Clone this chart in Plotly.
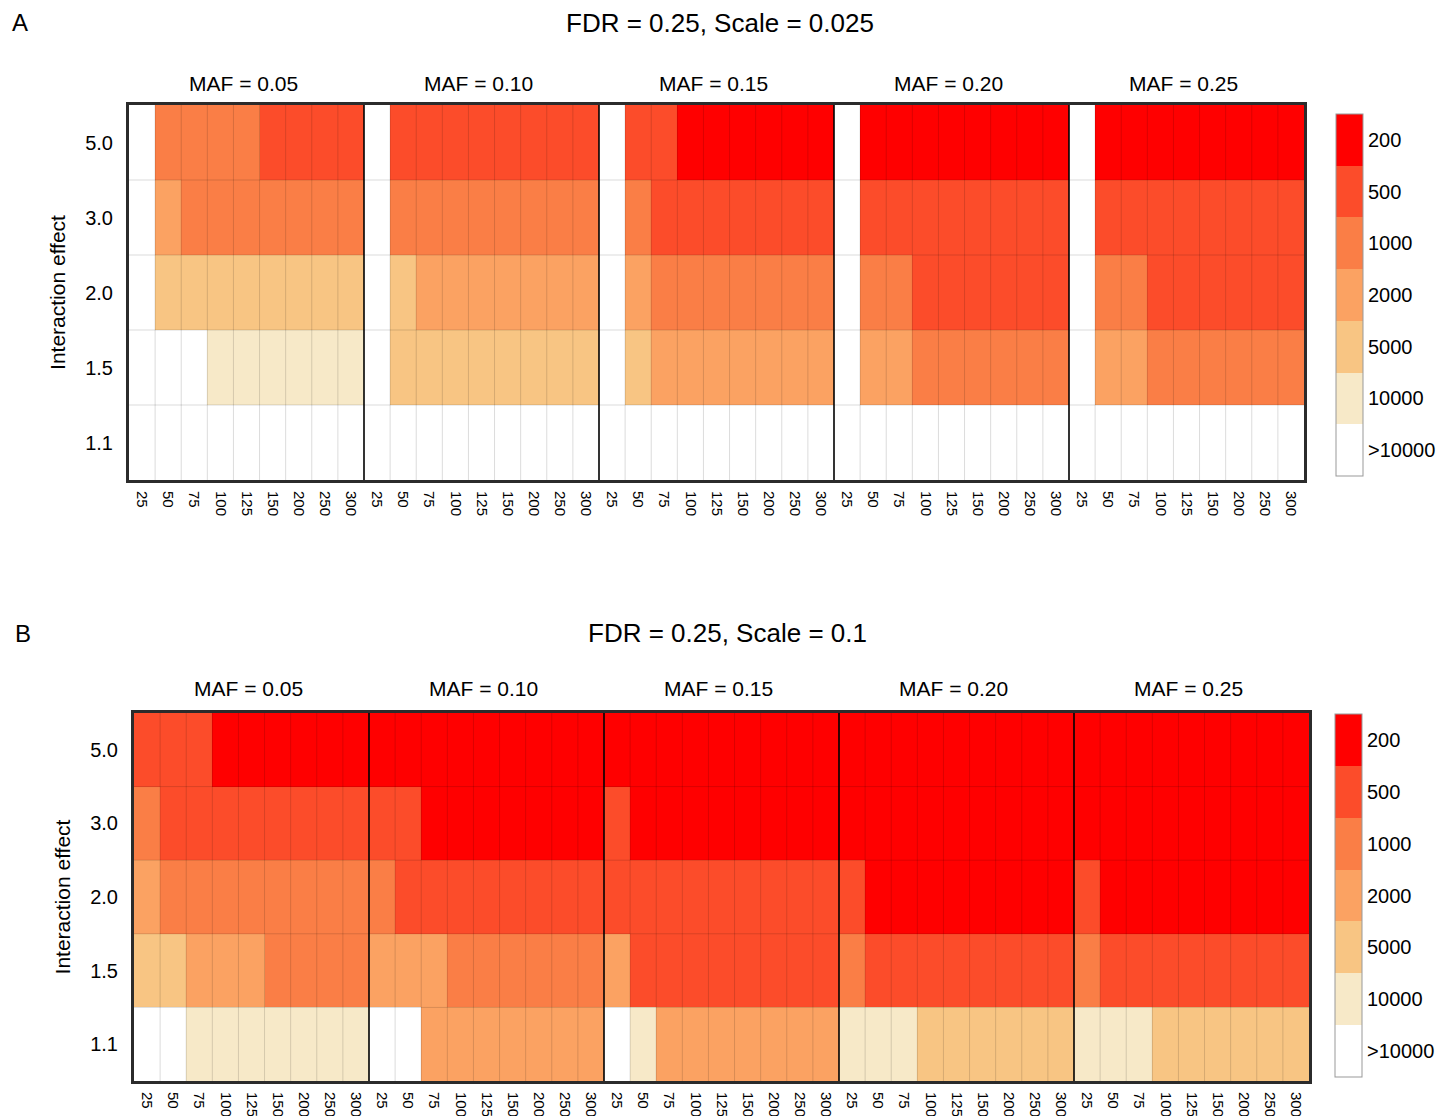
import plotly.graph_objects as go

# ---------------- data ----------------
SAMPLE_SIZES = [25, 50, 75, 100, 125, 150, 200, 250, 300]
EFFECTS_TOP_DOWN = ["5.0", "3.0", "2.0", "1.5", "1.1"]
MAFS = ["0.05", "0.10", "0.15", "0.20", "0.25"]
LEVELS = [">10000", "10000", "5000", "2000", "1000", "500", "200"]   # bottom -> top of colour bar
LEVEL_COLORS = ["#FFFFFF", "#F7E9C8", "#F8C583", "#FBA262", "#FA7E46", "#FC4C2A", "#FF0000"]
G = ">10000"

# Panel A : FDR = 0.25, Scale = 0.025   (rows: effect 5.0, 3.0, 2.0, 1.5, 1.1)
A_MAF_005 = [
    [G, 1000, 1000, 1000, 1000, 500, 500, 500, 500],
    [G, 2000, 1000, 1000, 1000, 1000, 1000, 1000, 1000],
    [G, 5000, 5000, 5000, 5000, 5000, 5000, 5000, 5000],
    [G, G, G, 10000, 10000, 10000, 10000, 10000, 10000],
    [G, G, G, G, G, G, G, G, G],
]
A_MAF_010 = [
    [G, 500, 500, 500, 500, 500, 500, 500, 500],
    [G, 1000, 1000, 1000, 1000, 1000, 1000, 1000, 1000],
    [G, 5000, 2000, 2000, 2000, 2000, 2000, 2000, 2000],
    [G, 5000, 5000, 5000, 5000, 5000, 5000, 5000, 5000],
    [G, G, G, G, G, G, G, G, G],
]
A_MAF_015 = [
    [G, 500, 500, 200, 200, 200, 200, 200, 200],
    [G, 1000, 500, 500, 500, 500, 500, 500, 500],
    [G, 2000, 1000, 1000, 1000, 1000, 1000, 1000, 1000],
    [G, 5000, 2000, 2000, 2000, 2000, 2000, 2000, 2000],
    [G, G, G, G, G, G, G, G, G],
]
A_MAF_020 = [
    [G, 200, 200, 200, 200, 200, 200, 200, 200],
    [G, 500, 500, 500, 500, 500, 500, 500, 500],
    [G, 1000, 1000, 500, 500, 500, 500, 500, 500],
    [G, 2000, 2000, 1000, 1000, 1000, 1000, 1000, 1000],
    [G, G, G, G, G, G, G, G, G],
]
A_MAF_025 = [
    [G, 200, 200, 200, 200, 200, 200, 200, 200],
    [G, 500, 500, 500, 500, 500, 500, 500, 500],
    [G, 1000, 1000, 500, 500, 500, 500, 500, 500],
    [G, 2000, 2000, 1000, 1000, 1000, 1000, 1000, 1000],
    [G, G, G, G, G, G, G, G, G],
]

# Panel B : FDR = 0.25, Scale = 0.1
B_MAF_005 = [
    [500, 500, 500, 200, 200, 200, 200, 200, 200],
    [1000, 500, 500, 500, 500, 500, 500, 500, 500],
    [2000, 1000, 1000, 1000, 1000, 1000, 1000, 1000, 1000],
    [5000, 5000, 2000, 2000, 2000, 1000, 1000, 1000, 1000],
    [G, G, 10000, 10000, 10000, 10000, 10000, 10000, 10000],
]
B_MAF_010 = [
    [200, 200, 200, 200, 200, 200, 200, 200, 200],
    [500, 500, 200, 200, 200, 200, 200, 200, 200],
    [1000, 500, 500, 500, 500, 500, 500, 500, 500],
    [2000, 2000, 2000, 1000, 1000, 1000, 1000, 1000, 1000],
    [G, G, 2000, 2000, 2000, 2000, 2000, 2000, 2000],
]
B_MAF_015 = [
    [200, 200, 200, 200, 200, 200, 200, 200, 200],
    [500, 200, 200, 200, 200, 200, 200, 200, 200],
    [500, 500, 500, 500, 500, 500, 500, 500, 500],
    [2000, 500, 500, 500, 500, 500, 500, 500, 500],
    [G, 10000, 2000, 2000, 2000, 2000, 2000, 2000, 2000],
]
B_MAF_020 = [
    [200, 200, 200, 200, 200, 200, 200, 200, 200],
    [200, 200, 200, 200, 200, 200, 200, 200, 200],
    [500, 200, 200, 200, 200, 200, 200, 200, 200],
    [1000, 500, 500, 500, 500, 500, 500, 500, 500],
    [10000, 10000, 10000, 5000, 5000, 5000, 5000, 5000, 5000],
]
B_MAF_025 = [
    [200, 200, 200, 200, 200, 200, 200, 200, 200],
    [200, 200, 200, 200, 200, 200, 200, 200, 200],
    [500, 200, 200, 200, 200, 200, 200, 200, 200],
    [1000, 500, 500, 500, 500, 500, 500, 500, 500],
    [10000, 10000, 10000, 5000, 5000, 5000, 5000, 5000, 5000],
]

PANEL_A = [A_MAF_005, A_MAF_010, A_MAF_015, A_MAF_020, A_MAF_025]
PANEL_B = [B_MAF_005, B_MAF_010, B_MAF_015, B_MAF_020, B_MAF_025]
TITLE_A = "FDR = 0.25, Scale = 0.025"
TITLE_B = "FDR = 0.25, Scale = 0.1"

# ---------------- helpers ----------------
W, H = 1444, 1116
FONT = "Liberation Sans, Arial, Helvetica, sans-serif"
nS = len(SAMPLE_SIZES)
nM = len(MAFS)
nE = len(EFFECTS_TOP_DOWN)
nL = len(LEVELS)


def to_z(panel):
    # bottom row first (effect 1.1 at bottom)
    z = []
    for r in reversed(range(nE)):
        row = []
        for blk in panel:
            for v in blk[r]:
                row.append(LEVELS.index(str(v)))
        z.append(row)
    return z


colorscale = []
for i, c in enumerate(LEVEL_COLORS):
    colorscale.append([i / nL, c])
    colorscale.append([(i + 1) / nL, c])


def px_x(p):
    return p / W


def px_y(p):
    return 1 - p / H


fig = go.Figure()

panels = [
    dict(data=PANEL_A, title=TITLE_A, letter="A", xa="x", ya="y",
         box=(129, 1304, 105, 480), cb=(1336, 114, 476), title_xy=(720, 23),
         maf_y=83, letter_xy=(20, 22)),
    dict(data=PANEL_B, title=TITLE_B, letter="B", xa="x2", ya="y2",
         box=(134, 1309, 713, 1081), cb=(1335, 714, 1077), title_xy=(728, 633),
         maf_y=688, letter_xy=(23, 633)),
]

xs = list(range(nS * nM))
ys = list(range(nE))
shapes = []
annotations = []

for p in panels:
    cbx, cby0, cby1 = p["cb"]
    cb_thick = 27
    fig.add_trace(go.Heatmap(
        z=to_z(p["data"]), x=xs, y=ys, xaxis=p["xa"], yaxis=p["ya"],
        colorscale=colorscale, zmin=-0.5, zmax=nL - 0.5,
        hovertemplate="%{z}<extra></extra>",
        colorbar=dict(
            x=px_x(cbx), xanchor="left", xpad=0, ypad=0,
            y=px_y((cby0 + cby1) / 2), yanchor="middle",
            lenmode="pixels", len=cby1 - cby0, thickness=cb_thick,
            outlinecolor="#999999", outlinewidth=1,
            tickvals=list(range(nL)), ticktext=LEVELS,
            ticks="", ticklabelposition="outside",
            tickfont=dict(size=20, color="#000", family=FONT),
        ),
    ))
    # separators between colour-bar bands
    band = (cby1 - cby0) / nL
    for k in range(1, nL):
        yy = px_y(cby0 + k * band)
        shapes.append(dict(type="line", xref="paper", yref="paper",
                           x0=px_x(cbx), x1=px_x(cbx + cb_thick), y0=yy, y1=yy,
                           line=dict(color="rgba(110,110,110,0.75)", width=1), layer="above"))
    # cell grid lines (semi-transparent so they darken the fill)
    for i in range(len(xs) - 1):
        if (i + 1) % nS == 0:
            continue
        shapes.append(dict(type="line", xref=p["xa"], yref=p["ya"],
                           x0=i + 0.5, x1=i + 0.5, y0=-0.5, y1=nE - 0.5,
                           line=dict(color="rgba(0,0,0,0.14)", width=1), layer="above"))
    for j in range(nE - 1):
        shapes.append(dict(type="line", xref=p["xa"], yref=p["ya"],
                           x0=-0.5, x1=len(xs) - 0.5, y0=j + 0.5, y1=j + 0.5,
                           line=dict(color="rgba(0,0,0,0.14)", width=1), layer="above"))
    # MAF group separators
    for k in range(1, nM):
        shapes.append(dict(type="line", xref=p["xa"], yref=p["ya"],
                           x0=k * nS - 0.5, x1=k * nS - 0.5, y0=-0.5, y1=nE - 0.5,
                           line=dict(color="#000000", width=1.6), layer="above"))
    # MAF labels
    for k, m in enumerate(MAFS):
        annotations.append(dict(text="MAF = " + m, xref=p["xa"], yref="paper",
                                x=k * nS + (nS - 1) / 2 - 0.12, y=px_y(p["maf_y"]),
                                xanchor="center", yanchor="middle", showarrow=False,
                                font=dict(size=21, color="#000", family=FONT)))
    tx, ty = p["title_xy"]
    annotations.append(dict(text=p["title"], xref="paper", yref="paper",
                            x=px_x(tx), y=px_y(ty), xanchor="center", yanchor="middle",
                            showarrow=False, font=dict(size=26, color="#000", family=FONT)))
    lx, ly = p["letter_xy"]
    annotations.append(dict(text=p["letter"], xref="paper", yref="paper",
                            x=px_x(lx), y=px_y(ly), xanchor="center", yanchor="middle",
                            showarrow=False, font=dict(size=24, color="#000", family=FONT)))

common_x = dict(
    tickmode="array", tickvals=xs, ticktext=[str(s) for s in SAMPLE_SIZES] * nM,
    tickangle=90, tickfont=dict(size=15, color="#000", family=FONT),
    range=[-0.5, len(xs) - 0.5], showgrid=False, zeroline=False,
    showline=True, mirror=True, linewidth=3, linecolor="#2b2b2b",
    ticks="", ticklabelstandoff=5,
)
common_y = dict(
    tickmode="array", tickvals=ys, ticktext=list(reversed(EFFECTS_TOP_DOWN)),
    tickfont=dict(size=20, color="#000", family=FONT),
    range=[-0.5, nE - 0.5], showgrid=False, zeroline=False,
    showline=True, mirror=True, linewidth=3, linecolor="#2b2b2b",
    ticks="", ticklabelstandoff=9,
    title=dict(text="Interaction effect", font=dict(size=21, color="#000", family=FONT), standoff=14),
)

a, b = panels
fig.update_layout(
    width=W, height=H,
    margin=dict(l=0, r=0, t=0, b=0),
    paper_bgcolor="white", plot_bgcolor="white",
    font=dict(family=FONT, color="#000"),
    xaxis=dict(common_x, domain=[px_x(a["box"][0]), px_x(a["box"][1])], anchor="y"),
    yaxis=dict(common_y, domain=[px_y(a["box"][3]), px_y(a["box"][2])], anchor="x"),
    xaxis2=dict(common_x, domain=[px_x(b["box"][0]), px_x(b["box"][1])], anchor="y2"),
    yaxis2=dict(common_y, domain=[px_y(b["box"][3]), px_y(b["box"][2])], anchor="x2"),
    shapes=shapes, annotations=annotations,
)

fig.write_html(
    "out.html",
    config={"displayModeBar": False},
    post_script="document.body.style.margin='0';document.body.style.overflow='hidden';",
)
